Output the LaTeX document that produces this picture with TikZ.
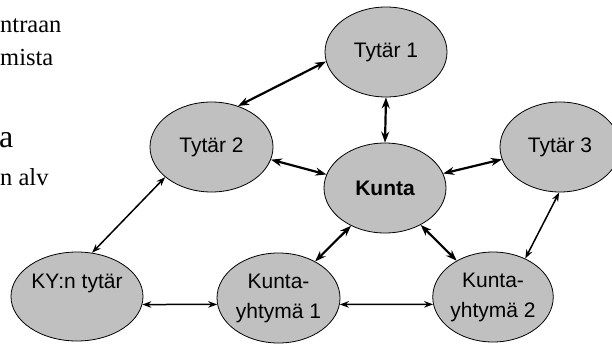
\documentclass[tikz,border=0pt]{standalone}
\usepackage{fontspec}
\setmainfont{Liberation Serif}
\newfontfamily\arialfont{Liberation Sans}
\usetikzlibrary{shapes.geometric,arrows.meta}
\definecolor{ovalgray}{RGB}{192,192,192}
\tikzset{
	oval/.style={ellipse, draw=black, line width=0.8pt, fill=ovalgray, inner sep=0pt, align=center,
		font=\arialfont\fontsize{21}{30}\selectfont},
	slidetext/.style={anchor=base west, inner sep=0pt, font=\fontsize{24.5}{29}\selectfont},
	thickarrow/.style={{Stealth[length=11pt,width=8pt]}-{Stealth[length=11pt,width=8pt]}, line width=2.2pt},
	thinarrow/.style={{Stealth[length=9pt,width=6.5pt]}-{Stealth[length=9pt,width=6.5pt]}, line width=1.5pt}
}

\begin{document}
\begin{tikzpicture}[x=1pt, y=-1pt]
		%%%%% START %%%%%
		\useasboundingbox (0, 0) rectangle (612, 343);
		
		% cut-off slide text on the left
		\node[slidetext] (txta) at (0, 32) {ntraan};
		\node[slidetext] (txtb) at (0, 65) {mista};
		\node[slidetext, font=\fontsize{32}{36}\selectfont] (txtc) at (-1, 147) {a};
		\node[slidetext] (txtd) at (0, 185) {n alv};
		
		% ovals
		\node[oval, minimum width=122pt, minimum height=90pt] (tytar1) at (386, 52) {Tytär 1};
		\node[oval, minimum width=123pt, minimum height=90pt] (tytar2) at (211.5, 147) {Tytär 2};
		\node[oval, minimum width=120pt, minimum height=90pt] (tytar3) at (560, 147) {Tytär 3};
		\node[oval, minimum width=122pt, minimum height=90pt] (kunta) at (385, 188) {\bfseries Kunta};
		\node[oval, minimum width=132pt, minimum height=89pt] (kytytar) at (77, 296.5) {KY:n tytär\\\mbox{}};
		\node[oval, minimum width=123pt, minimum height=90pt] (ky1) at (278.5, 298) {Kunta-\\yhtymä 1};
		\node[oval, minimum width=120pt, minimum height=90pt] (ky2) at (493, 297) {Kunta-\\yhtymä 2};
		
		% connectors
		\draw[thickarrow] (tytar2.57) -- (tytar1.189);
		\draw[thickarrow] (tytar1.south) -- (kunta.north);
		\draw[thickarrow] (tytar2.-12) -- (kunta.167);
		\draw[thickarrow] (kunta.14) -- (tytar3.192);
		\draw[thinarrow] (tytar2.213) -- (kytytar.71);
		\draw[thickarrow] (kunta.228) -- (ky1.45);
		\draw[thickarrow] (kunta.314) -- (ky2.135);
		\draw[thinarrow] (tytar3.269) -- (ky2.50);
		\draw[thinarrow] (kytytar.-7.5) -- (ky1.186);
		\draw[thinarrow] (ky1.-6.5) -- (ky2.187.5);
		
		%%%%% END %%%%%
\end{tikzpicture}
\end{document}
